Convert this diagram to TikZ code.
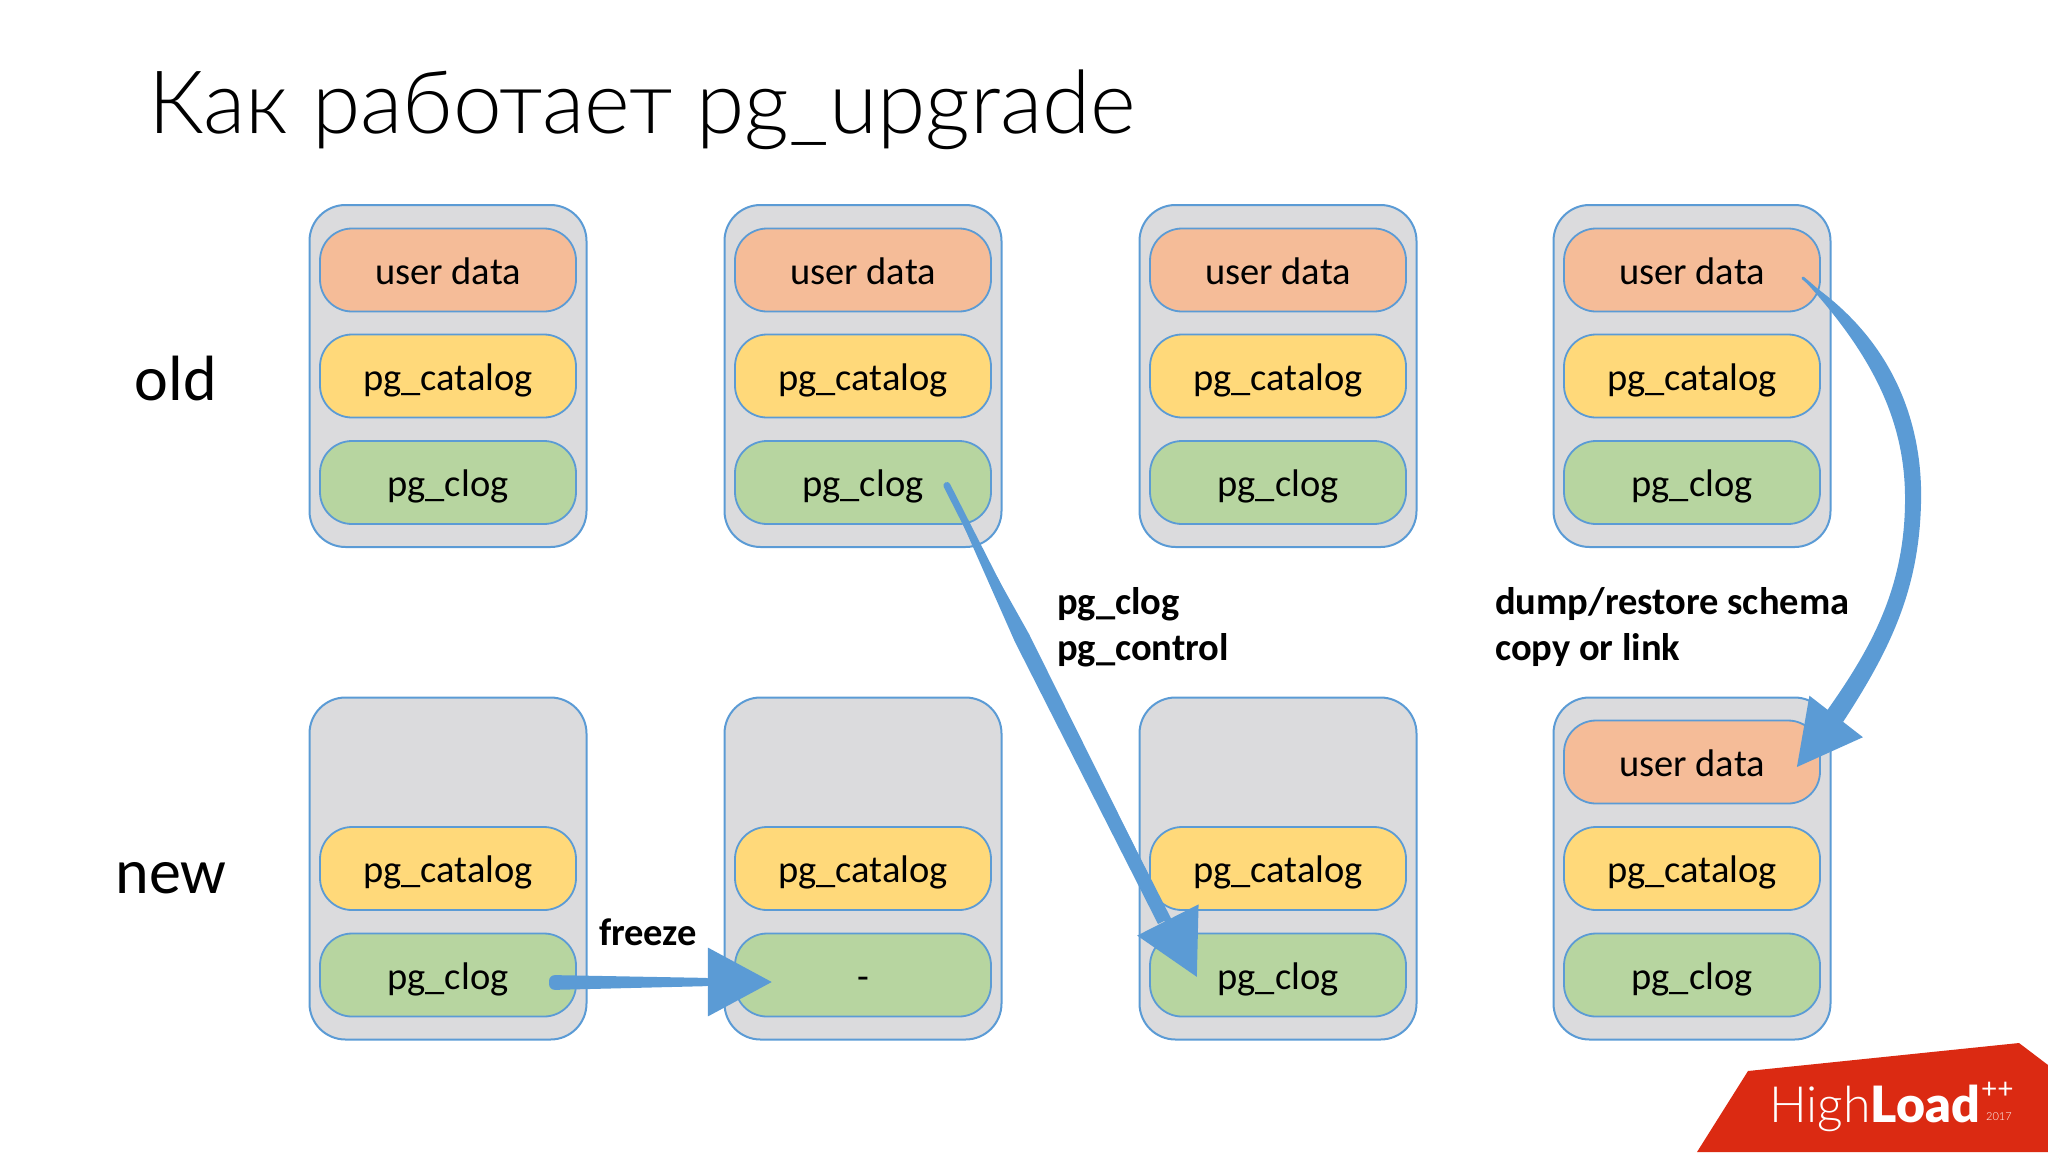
\documentclass[tikz,border=0pt]{standalone}
\usepackage{fontspec}
\usepackage{xcolor}
\usetikzlibrary{arrows.meta}
\setmainfont{Carlito}
\newfontfamily\titlefont{Lato Light}
\newfontfamily\logofont{Lato}
\newfontfamily\logoheavy{Lato Black}

\definecolor{edgeblue}{HTML}{5B9BD5}
\definecolor{boxgray}{HTML}{DBDBDD}
\definecolor{userfill}{HTML}{F5BC98}
\definecolor{catfill}{HTML}{FFD97A}
\definecolor{clogfill}{HTML}{B7D5A0}
\definecolor{logored}{HTML}{DB2A12}

\tikzset{
  clusterbox/.style={draw=edgeblue, fill=boxgray, line width=2pt, rounded corners=36pt,
    minimum width=277pt, minimum height=342pt, inner sep=0pt},
  layerbox/.style={draw=edgeblue, line width=1.8pt, rounded corners=32pt,
    minimum width=256pt, minimum height=83pt, inner sep=0pt,
    text height=36pt, text depth=8pt, font=\fontsize{38.5}{44}\selectfont},
  userbox/.style={layerbox, fill=userfill},
  catbox/.style={layerbox, fill=catfill},
  clogbox/.style={layerbox, fill=clogfill},
  rowlabel/.style={anchor=base, font=\fontsize{64}{70}\selectfont},
  steplabel/.style={font=\fontsize{38.5}{46}\selectfont\bfseries, align=left, inner sep=0pt},
  flow/.style={draw=edgeblue, line width=7pt, line cap=round},
  flowhead/.style={-{Triangle[length=64pt,width=67pt]}}
}

\begin{document}
\begin{tikzpicture}[x=1pt,y=-1pt]
  \useasboundingbox (0,0) rectangle (2048,1152);

  \node[font=\titlefont\fontsize{87.5}{100}\selectfont, anchor=base west, inner sep=0pt] (title)
    at (148,133) {Как работает pg\_upgrade};
  \node[rowlabel] (oldlabel) at (176,400) {old};
  \node[rowlabel] (newlabel) at (171,893) {new};

  \foreach \col/\cx in {1/448,2/863,3/1278,4/1692} {
    \node[clusterbox] (old\col) at (\cx,376) {};
    \node[userbox] (olduser\col) at (\cx,270) {user data};
    \node[catbox] (oldcat\col) at (\cx,376) {pg\_catalog};
    \node[clogbox] (oldclog\col) at (\cx,482.5) {pg\_clog};
    \node[clusterbox] (new\col) at (\cx,868.5) {};
    \node[catbox] (newcat\col) at (\cx,868.5) {pg\_catalog};
  }
  \node[userbox] (newuser4) at (1692,762) {user data};
  \node[clogbox] (newclog1) at (448,975) {pg\_clog};
  \node[clogbox] (newclog2) at (863,975) {-};
  \node[clogbox] (newclog3) at (1278,975) {pg\_clog};
  \node[clogbox] (newclog4) at (1692,975) {pg\_clog};

  \node[steplabel, anchor=base] (freezelabel) at (648,945) {freeze};
  \node[steplabel, anchor=base west] (cloglabel) at (1057,660) {pg\_clog\\pg\_control};
  \node[steplabel, anchor=base west] (dumplabel) at (1495,660) {dump/restore schema\\copy or link};

  % hand drawn arrows: thin line plus a tapered body
  \fill[edgeblue, rounded corners=6pt] (549,975) -- (712,978) -- (712,986) -- (549,990) -- cycle;
  \draw[flow, flowhead] ([xshift=-24pt,yshift=-7pt]newclog1.east) -- ([xshift=-220pt,yshift=-7pt]newclog2.east);
  \fill[edgeblue] (946,486) -- (1029,634) -- (1170,918) -- (1158,924) -- (1015,642) -- cycle;
  \draw[flow, flowhead] ([xshift=-45pt,yshift=-3pt]oldclog2.east) -- ([xshift=-210pt,yshift=-2pt]newclog3.east);
  \fill[edgeblue] (1802,278) .. controls (1898,340) and (1923,430) .. (1921,503)
    .. controls (1919,590) and (1890,650) .. (1843,722) -- (1826,712)
    .. controls (1870,650) and (1904,590) .. (1905,503)
    .. controls (1906,430) and (1880,362) .. (1802,278);
  \draw[flow, line width=3pt, flowhead] ([xshift=-18pt,yshift=-8pt]olduser4.east)
    .. controls (1890,350) and (1915,430) .. (1913,503)
    .. controls (1911,590) and (1880,660) .. ([xshift=-24pt,yshift=-5pt]newuser4.east);

  \fill[logored] (1748,1071) -- (2019,1043) -- (2048,1065) -- (2048,1152) -- (1697,1152) -- cycle;
  \node[anchor=base west, inner sep=0pt, text=white, font=\fontsize{50}{50}\selectfont] (logohigh)
    at (1769,1122) {{\titlefont High}{\logoheavy Load}};
  \node[anchor=base west, inner sep=0pt, text=white, font=\logofont\fontsize{28}{28}\selectfont] (logoplus)
    at (1981,1098) {++};
  \node[anchor=base west, inner sep=0pt, text=white, font=\titlefont\fontsize{11}{11}\selectfont] (logoyear)
    at (1986,1120) {2017};
\end{tikzpicture}
\end{document}
